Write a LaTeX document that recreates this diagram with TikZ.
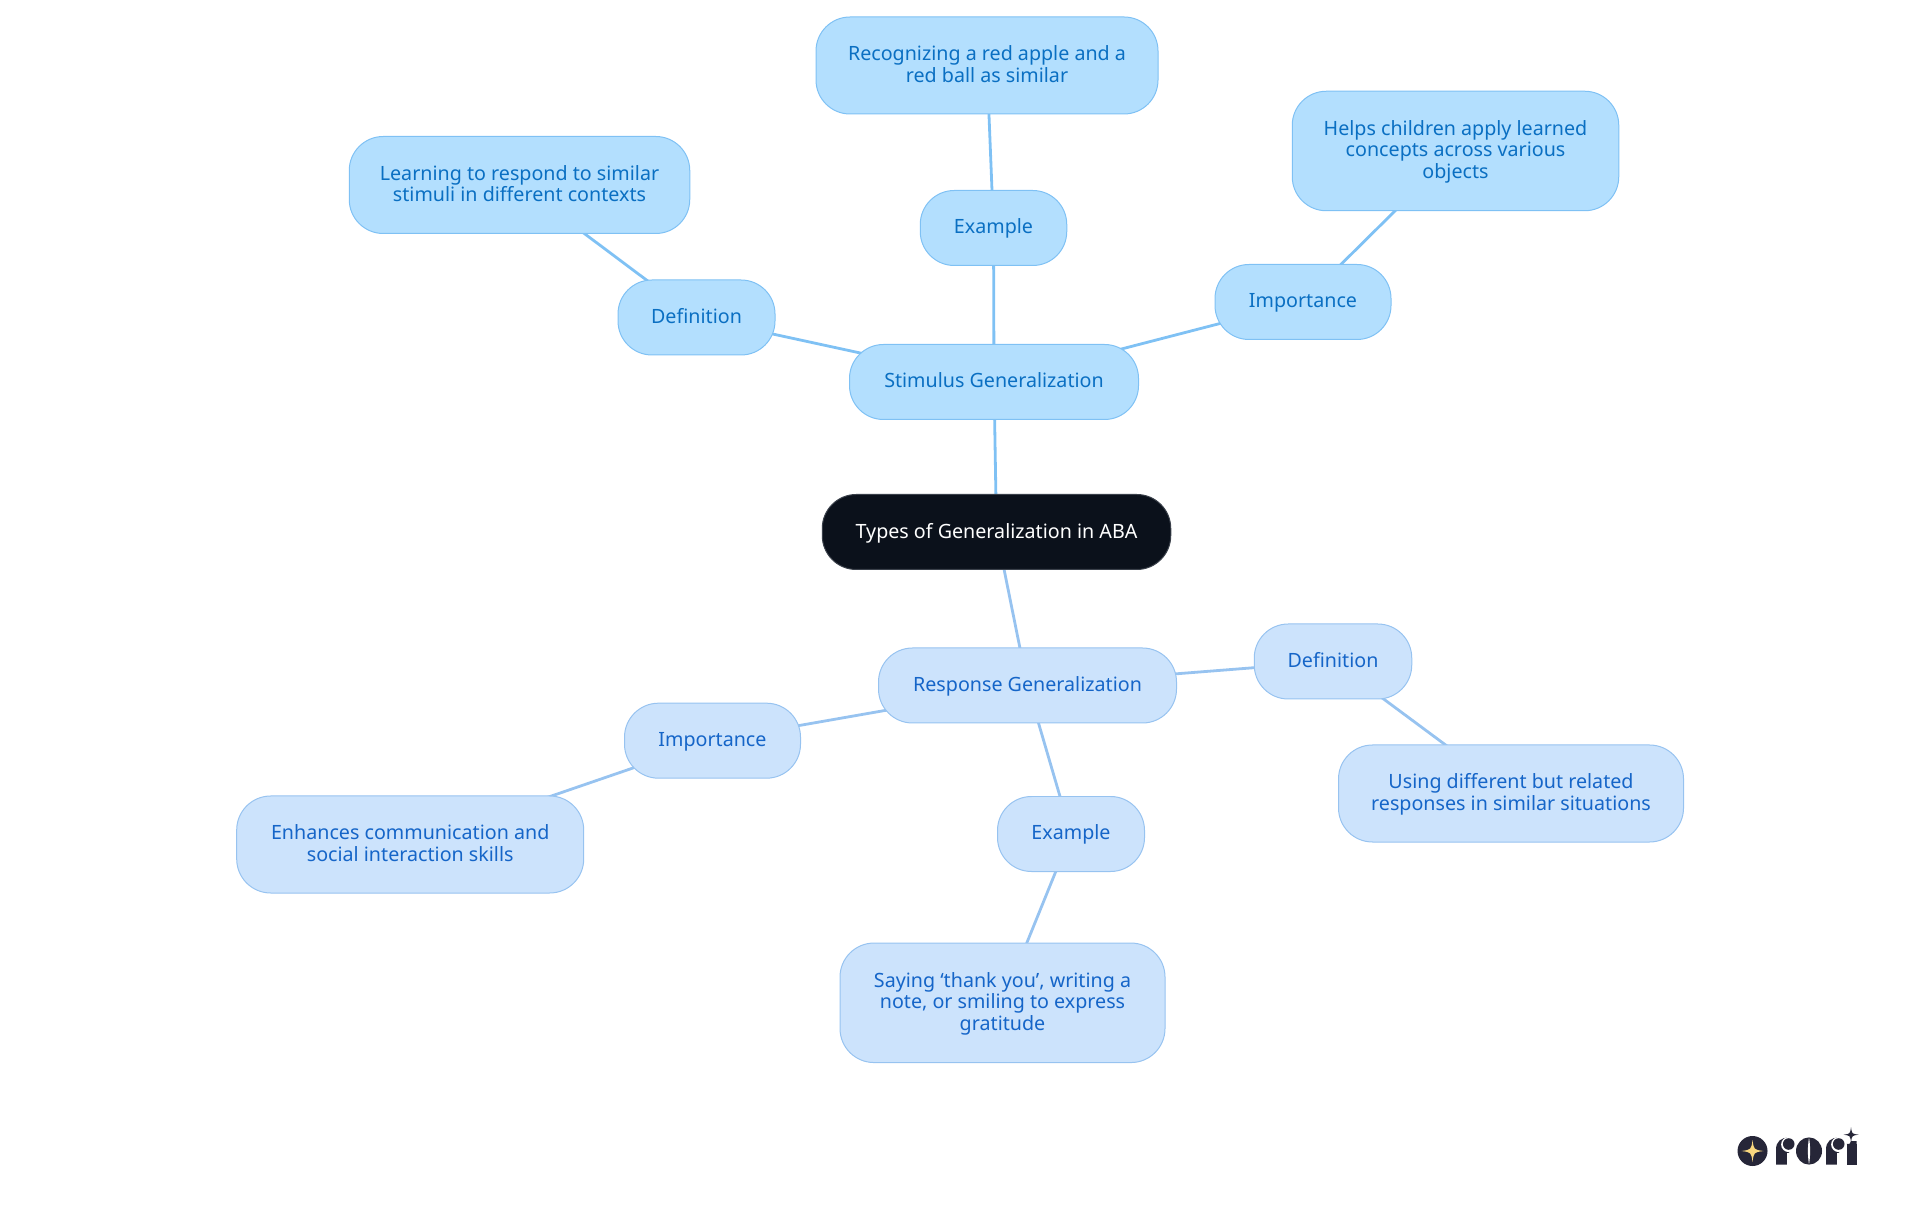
\documentclass[tikz,border=0pt]{standalone}
\usepackage{fontspec}
\usepackage{tikz}
\usetikzlibrary{backgrounds}
\setmainfont{Noto Sans}

\definecolor{rootfill}{HTML}{0B111B}
\definecolor{rootline}{HTML}{3A404A}
\definecolor{stimfill}{HTML}{B3DFFE}
\definecolor{stimline}{HTML}{7FC1F4}
\definecolor{stimtext}{HTML}{0A6FC2}
\definecolor{respfill}{HTML}{CCE3FC}
\definecolor{respline}{HTML}{97C3F0}
\definecolor{resptext}{HTML}{1565C8}
\definecolor{logodark}{HTML}{262638}
\definecolor{logostar}{HTML}{F9D77E}

\tikzset{
    mapbox/.style={rectangle, rounded corners=0.34cm, line width=0.01cm, align=center, inner sep=0pt, text depth=0.03cm,
        font=\fontsize{5.6}{6.14}\selectfont},
    stimbox/.style={mapbox, draw=stimline, fill=stimfill, text=stimtext},
    respbox/.style={mapbox, draw=respline, fill=respfill, text=resptext},
    rootbox/.style={mapbox, draw=rootline, fill=rootfill, text=white},
    one/.style={minimum width=#1cm, minimum height=0.75cm},
    two/.style={minimum width=#1cm, minimum height=0.97cm},
    three/.style={minimum width=#1cm, minimum height=1.195cm},
    stimlink/.style={draw=stimline, line width=0.028cm},
    resplink/.style={draw=respline, line width=0.028cm},
    sparkle/.pic={
        \fill (0,1) .. controls (0.12,0.12) .. (1,0) .. controls (0.12,-0.12) .. (0,-1)
            .. controls (-0.12,-0.12) .. (-1,0) .. controls (-0.12,0.12) .. (0,1) -- cycle;
    },
    logor/.pic={
        \fill[logodark] (0,0) -- (0,0.15) .. controls (0,0.23) and (0.05,0.27) .. (0.13,0.27) -- (0.13,0) -- (0.11,0) -- cycle;
        \fill[white] (0.127,0.2) circle (0.076);
        \fill[logodark] (0.127,0.205) circle (0.058);
        \fill[white] (0.11,0) rectangle (0.14,0.12);
    },
}

\begin{document}
\begin{tikzpicture}
    \useasboundingbox (0,0) rectangle (19.2,12.15);

    \node[rootbox, one=3.485] (root) at (9.965,6.83) {Types of Generalization in ABA};

    % upper half
    \node[stimbox, one=2.89] (stim) at (9.94,8.33) {Stimulus Generalization};
    \node[stimbox, one=1.57] (stimdef) at (6.965,8.975) {Definition};
    \node[stimbox, two=3.405] (stimdeftxt) at (5.195,10.3) {Learning to respond to similar\\stimuli in different contexts};
    \node[stimbox, one=1.465] (stimex) at (9.935,9.87) {Example};
    \node[stimbox, two=3.42] (stimextxt) at (9.87,11.495) {Recognizing a red apple and a\\red ball as similar};
    \node[stimbox, one=1.76] (stimimp) at (13.03,9.13) {Importance};
    \node[stimbox, three=3.265] (stimimptxt) at (14.555,10.64) {Helps children apply learned\\concepts across various\\objects};

    % lower half
    \node[respbox, one=2.98] (resp) at (10.275,5.295) {Response Generalization};
    \node[respbox, one=1.575] (respdef) at (13.33,5.535) {Definition};
    \node[respbox, two=3.45] (respdeftxt) at (15.11,4.215) {Using different but related\\responses in similar situations};
    \node[respbox, one=1.47] (respex) at (10.71,3.81) {Example};
    \node[respbox, three=3.25] (respextxt) at (10.025,2.122) {Saying ‘thank you’, writing a\\note, or smiling to express\\gratitude};
    \node[respbox, one=1.76] (respimp) at (7.125,4.743) {Importance};
    \node[respbox, two=3.47] (respimptxt) at (4.102,3.705) {Enhances communication and\\social interaction skills};

    \begin{scope}[on background layer]
        \draw[stimlink] (root.center) -- (stim.center);
        \draw[stimlink] (stim.center) -- (stimdef.center);
        \draw[stimlink] (stimdef.center) -- (stimdeftxt.center);
        \draw[stimlink] (stim.center) -- (stimex.center);
        \draw[stimlink] (stimex.center) -- (stimextxt.center);
        \draw[stimlink] (stim.center) -- (stimimp.center);
        \draw[stimlink] (stimimp.center) -- (stimimptxt.center);
        \draw[resplink] (root.center) -- (resp.center);
        \draw[resplink] (resp.center) -- (respdef.center);
        \draw[resplink] (respdef.center) -- (respdeftxt.center);
        \draw[resplink] (resp.center) -- (respex.center);
        \draw[resplink] (respex.center) -- (respextxt.center);
        \draw[resplink] (resp.center) -- (respimp.center);
        \draw[resplink] (respimp.center) -- (respimptxt.center);
    \end{scope}

    % logo
    \fill[logodark] (17.525,0.64) circle (0.15);
    \pic[logostar, scale=0.11] at (17.525,0.64) {sparkle};
    \pic at (17.76,0.505) {logor};
    \fill[logodark] (18.09,0.64) ellipse (0.13 and 0.136);
    \fill[white] (18.09,0.775) .. controls (18.105,0.68) and (18.105,0.6) .. (18.09,0.505)
        .. controls (18.075,0.6) and (18.075,0.68) .. (18.09,0.775) -- cycle;
    \pic at (18.26,0.505) {logor};
    \fill[logodark] (18.465,0.505) rectangle (18.565,0.71);
    \fill[logodark] (18.465,0.71) .. controls (18.5,0.71) .. (18.51,0.74) -- (18.565,0.74) -- (18.565,0.7) -- cycle;
    \pic[logodark, scale=0.075] at (18.51,0.803) {sparkle};
\end{tikzpicture}
\end{document}
